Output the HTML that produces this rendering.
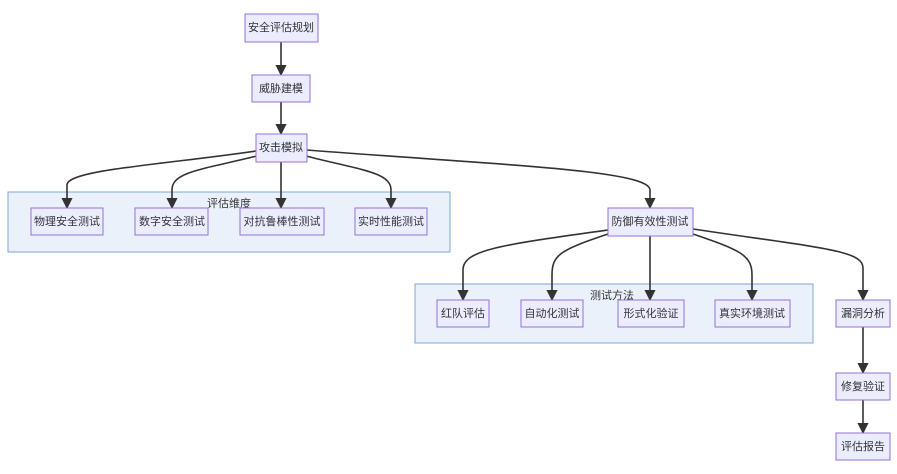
<!DOCTYPE html>
<html><head><meta charset="utf-8"><style>
body{margin:0;background:#fff;}
svg{display:block;font-family:"Liberation Sans","Noto Sans CJK SC",sans-serif;}
.n{fill:#ECECFF;stroke:#9370DB;stroke-width:1;}
.c{fill:#EAF1FB;stroke:#7FA7D4;stroke-width:1;}
.e{fill:none;stroke:#333;stroke-width:1.6;}
text{font-size:11px;fill:#333;text-anchor:middle;dominant-baseline:central;}
</style></head><body>
<svg width="897" height="474" viewBox="0 0 897 474">
<defs><marker id="a" viewBox="0 0 10 10" refX="9" refY="5" markerWidth="7" markerHeight="7" orient="auto"><path d="M0,0L10,5L0,10z" fill="#333"/></marker></defs>
<rect class="c" x="8" y="192" width="442" height="60"/>
<text x="229" y="204">评估维度</text>
<rect class="c" x="415" y="284" width="398" height="59"/>
<text x="612" y="296">测试方法</text>

<path class="e" marker-end="url(#a)" d="M281,42V75"/>
<path class="e" marker-end="url(#a)" d="M281,102V134"/>
<path class="e" marker-end="url(#a)" d="M256,151C160,165 67,170 67,185V208"/>
<path class="e" marker-end="url(#a)" d="M257,156C200,170 172,172 172,190V208"/>
<path class="e" marker-end="url(#a)" d="M281,162V208"/>
<path class="e" marker-end="url(#a)" d="M306,156C360,170 391,172 391,190V208"/>
<path class="e" marker-end="url(#a)" d="M307,150C500,165 650,170 650,190V208"/>
<path class="e" marker-end="url(#a)" d="M608,230C500,245 463,250 463,270V300"/>
<path class="e" marker-end="url(#a)" d="M608,234C560,250 552,255 552,275V300"/>
<path class="e" marker-end="url(#a)" d="M650,236V300"/>
<path class="e" marker-end="url(#a)" d="M693,234C740,250 752,255 752,275V300"/>
<path class="e" marker-end="url(#a)" d="M693,229C820,248 863,250 863,268V300"/>
<path class="e" marker-end="url(#a)" d="M863,327V373"/>
<path class="e" marker-end="url(#a)" d="M863,400V433"/>

<rect class="n" x="245" y="14" width="73" height="28"/><text x="281" y="28">安全评估规划</text>
<rect class="n" x="252" y="75" width="58" height="27"/><text x="281" y="89">威胁建模</text>
<rect class="n" x="256" y="134" width="51" height="28"/><text x="281" y="148">攻击模拟</text>
<rect class="n" x="31" y="208" width="72" height="27"/><text x="67" y="222">物理安全测试</text>
<rect class="n" x="135" y="208" width="73" height="27"/><text x="172" y="222">数字安全测试</text>
<rect class="n" x="240" y="208" width="84" height="27"/><text x="282" y="222">对抗鲁棒性测试</text>
<rect class="n" x="355" y="208" width="72" height="27"/><text x="391" y="222">实时性能测试</text>
<rect class="n" x="608" y="208" width="85" height="28"/><text x="650" y="222">防御有效性测试</text>
<rect class="n" x="437" y="300" width="52" height="27"/><text x="463" y="314">红队评估</text>
<rect class="n" x="521" y="300" width="62" height="27"/><text x="552" y="314">自动化测试</text>
<rect class="n" x="618" y="300" width="66" height="27"/><text x="651" y="314">形式化验证</text>
<rect class="n" x="715" y="300" width="75" height="27"/><text x="752" y="314">真实环境测试</text>
<rect class="n" x="836" y="300" width="54" height="27"/><text x="863" y="314">漏洞分析</text>
<rect class="n" x="836" y="373" width="54" height="27"/><text x="863" y="387">修复验证</text>
<rect class="n" x="836" y="433" width="54" height="27"/><text x="863" y="447">评估报告</text>
</svg>
</body></html>
